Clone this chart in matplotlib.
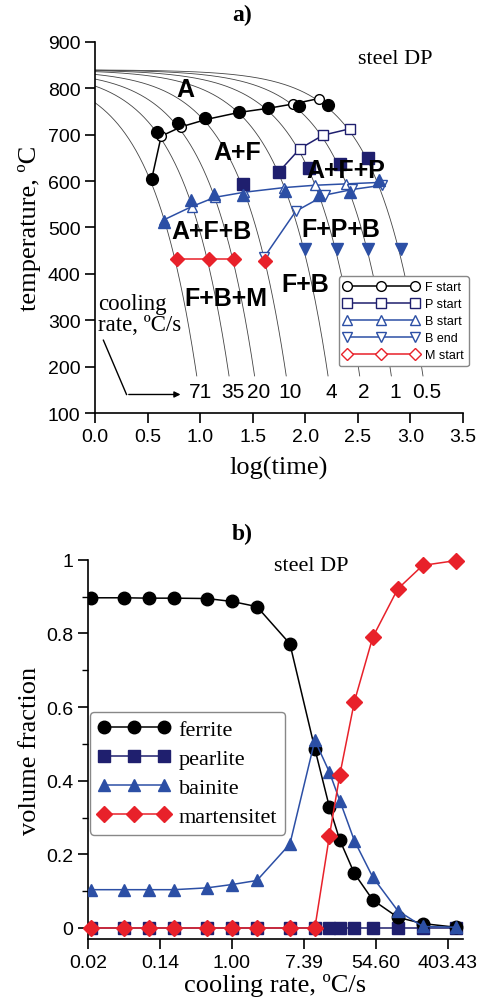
import numpy as np
import matplotlib
matplotlib.use("Agg")
import matplotlib.pyplot as plt

# ---------- panel a) CCT diagram ----------
rates = [71, 35, 20, 10, 4, 2, 1, 0.5]          # cooling rate, oC/s
T_aust = 840                                     # start temperature of cooling curves
T_end = 180

f_x = [0.54, 0.63, 0.82, 1.06, 1.37, 1.65, 1.88, 2.13]
f_T = [605, 697, 717, 733, 748, 757, 766, 778]
f_xs = [0.54, 0.59, 0.79, 1.05, 1.37, 1.65, 1.94, 2.22]
f_Ts = [605, 706, 725, 735, 750, 757, 761, 763]

p_x = [1.75, 1.95, 2.17, 2.43]
p_T = [620, 670, 699, 713]
p_xs = [1.41, 1.75, 2.04, 2.33, 2.60]
p_Ts = [593, 620, 628, 637, 650]

bs_x = [0.66, 0.92, 1.14, 1.42, 1.80, 2.09, 2.39, 2.69]
bs_T = [517, 545, 565, 576, 586, 591, 594, 597]
bs_xs = [0.66, 0.91, 1.13, 1.41, 1.81, 2.13, 2.43, 2.70]
bs_Ts = [512, 560, 572, 570, 578, 570, 577, 602]

be_x = [1.61, 1.91, 2.19, 2.45, 2.73]
be_T = [436, 535, 570, 582, 591]
be_xs = [2.00, 2.30, 2.60, 2.91]
be_Ts = [453, 453, 453, 453]

ms_x = [0.78, 1.08, 1.32]
ms_T = [431, 431, 431]
ms_xs = [0.78, 1.08, 1.32, 1.62]
ms_Ts = [431, 431, 431, 428]

regions = ["A", "A+F", "A+F+P", "A+F+B", "F+P+B", "F+B+M", "F+B"]
region_x = [0.86, 1.35, 2.39, 1.11, 2.34, 1.25, 2.00]
region_T = [799, 663, 623, 492, 497, 347, 379]

# ---------- panel b) volume fractions ----------
cool_rate = [0.02, 0.05, 0.1, 0.2, 0.5, 1, 2, 5, 10, 15, 20, 30, 50, 100, 200, 500]
ferrite = [0.897, 0.897, 0.896, 0.896, 0.895, 0.887, 0.873, 0.772, 0.487,
           0.328, 0.239, 0.148, 0.076, 0.029, 0.012, 0.002]
pearlite = [0] * 16
bainite = [0.104, 0.104, 0.104, 0.104, 0.109, 0.118, 0.129, 0.228, 0.51,
           0.423, 0.346, 0.237, 0.138, 0.047, 0.004, 0.002]
martensite = [0, 0, 0, 0, 0, 0, 0, 0, 0,
              0.251, 0.416, 0.615, 0.79, 0.921, 0.985, 0.998]
xticks_b = [-4, -2, 0, 2, 4, 6]

BLACK = "black"
NAVY = "#1f1f6e"
BLUE = "#2c4fa5"
RED = "#e8212a"
serif = ["Liberation Serif", "DejaVu Serif"]
sans = ["Liberation Sans", "DejaVu Sans"]

plt.rcParams["font.family"] = sans
fig = plt.figure(figsize=(4.79, 10.03), dpi=100)

ax = fig.add_axes([0.1983, 0.5872, 0.768, 0.370])
for r in rates:
    x_end = np.log10((T_aust - T_end) / r)
    xx = np.linspace(0, x_end, 200)
    ax.plot(xx, T_aust - r * 10 ** xx, color="#444444", lw=0.6, zorder=1)
    ax.text(x_end + 0.035, 146, f"{r:g}", ha="center", va="center", fontsize=15)

def series(xo, To, xs, Ts, color, mk, label, ms_o=7, ms_s=8.5):
    ax.plot(xo, To, color=color, lw=1.1, marker=mk, ms=ms_o, mfc="white",
            mec=color, mew=1.0, label=label, zorder=3)
    ax.plot(xs, Ts, ls="none", marker=mk, ms=ms_s, color=color, zorder=4)

series(f_x, f_T, f_xs, f_Ts, BLACK, "o", "F start")
series(p_x, p_T, p_xs, p_Ts, NAVY, "s", "P start", ms_s=8)
series(bs_x, bs_T, bs_xs, bs_Ts, BLUE, "^", "B start")
series(be_x, be_T, be_xs, be_Ts, BLUE, "v", "B end")
series(ms_x, ms_T, ms_xs, ms_Ts, RED, "D", "M start", ms_o=6.5, ms_s=7.5)

for lab, x, T in zip(regions, region_x, region_T):
    ax.text(x, T, lab, ha="center", va="center", fontsize=18, fontweight="bold", zorder=5)

ax.text(2.86, 864, "steel DP", family=serif, fontsize=16, ha="center", va="center")
ax.text(0.03, 358, "cooling\nrate, ºC/s", family=serif, fontsize=16.5, ha="left", va="top",
        linespacing=1.0)
ax.plot([0.08, 0.30], [257, 140], color="black", lw=1.0)
ax.annotate("", xy=(0.84, 140), xytext=(0.295, 140),
            arrowprops=dict(arrowstyle="-|>", color="black", lw=1.0, mutation_scale=9))

ax.set_xlim(0, 3.5)
ax.set_ylim(100, 900)
ax.set_xticks(np.arange(0, 3.51, 0.5))
ax.set_yticks(np.arange(100, 901, 100))
ax.set_xticklabels([f"{v:.1f}" for v in np.arange(0, 3.51, 0.5)])
ax.spines[["top", "right"]].set_visible(False)
ax.spines[["left", "bottom"]].set_linewidth(1.2)
ax.tick_params(direction="out", length=7, width=1.2, labelsize=14)
ax.set_xlabel("log(time)", family=serif, fontsize=19, labelpad=8)
ax.set_ylabel("temperature, ºC", family=serif, fontsize=19, labelpad=5)
leg = ax.legend(loc="upper left", bbox_to_anchor=(0.645, 0.385), fontsize=9,
                numpoints=3, handlelength=6, labelspacing=0.4, borderpad=0.4,
                handletextpad=0.5, fancybox=True, edgecolor="#888888", framealpha=1)
leg.get_frame().set_linewidth(1.0)

fig.text(0.505, 0.985, "a)", family=serif, fontsize=17, fontweight="bold", ha="center", va="center")

# ---------- panel b ----------
bx = fig.add_axes([0.1837, 0.0628, 0.783, 0.378])
lx = np.log(cool_rate)
bx.plot(lx, ferrite, color=BLACK, marker="o", ms=9, lw=1.1, label="ferrite", zorder=3)
bx.plot(lx, pearlite, color=NAVY, marker="s", ms=8.5, lw=1.1, label="pearlite", zorder=2)
bx.plot(lx, bainite, color=BLUE, marker="^", ms=9, lw=1.1, label="bainite", zorder=3)
bx.plot(lx, martensite, color=RED, marker="D", ms=8, lw=1.1, label="martensitet", zorder=4,
        clip_on=False)

bx.set_xlim(-4, 6.42)
bx.set_ylim(-0.03, 1.0)
bx.set_xticks(xticks_b)
bx.set_xticklabels([f"{np.exp(t):.2f}" for t in xticks_b])
bx.set_yticks([0, 0.2, 0.4, 0.6, 0.8, 1.0])
bx.set_yticklabels(["0", "0.2", "0.4", "0.6", "0.8", "1"])
bx.set_yticks(np.arange(0.1, 1.0, 0.2), minor=True)
bx.spines[["top", "right"]].set_visible(False)
bx.spines[["left", "bottom"]].set_linewidth(1.2)
bx.spines["left"].set_bounds(-0.03, 1.0)
bx.tick_params(direction="out", length=7, width=1.2, labelsize=14)
bx.tick_params(which="minor", direction="out", length=4, width=1.0)
bx.text(2.21, 0.985, "steel DP", family=serif, fontsize=16, ha="center", va="center")
bx.set_xlabel("cooling rate, ºC/s", family=serif, fontsize=19, labelpad=2)
bx.set_ylabel("volume fraction", family=serif, fontsize=19, labelpad=4)
legb = bx.legend(loc="upper left", bbox_to_anchor=(0.005, 0.6), prop={"family": serif, "size": 16},
                 numpoints=3, handlelength=3.3, labelspacing=0.38, borderpad=0.35,
                 handletextpad=0.35, borderaxespad=0, fancybox=True, edgecolor="#888888",
                 framealpha=1)
legb.get_frame().set_linewidth(1.0)

fig.text(0.505, 0.467, "b)", family=serif, fontsize=17, fontweight="bold", ha="center", va="center")

fig.savefig("out.png", dpi=100)
